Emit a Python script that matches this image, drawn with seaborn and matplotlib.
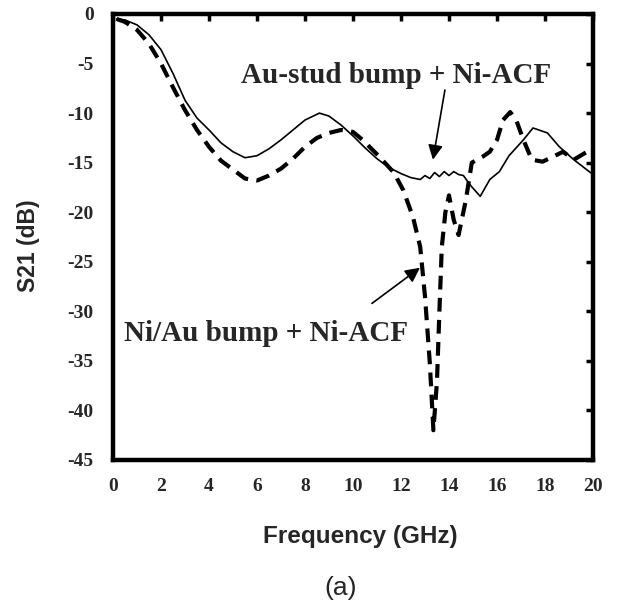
import matplotlib
matplotlib.use("Agg")
import matplotlib.pyplot as plt
import seaborn as sns
import pandas as pd

# Au-stud bump + Ni-ACF (solid)
freq_au = [0.15, 0.5, 1.0, 1.5, 2.0, 2.5, 3.0, 3.5, 4.0, 4.5, 5.0, 5.5, 6.0, 6.5, 7.0, 7.5,
           8.0, 8.6, 9.0, 9.5, 10.0, 10.5, 11.0, 11.5, 12.0, 12.4, 12.8, 13.0, 13.2, 13.4,
           13.6, 13.8, 14.0, 14.2, 14.4, 14.6, 14.9, 15.3, 15.7, 16.1, 16.5, 17.1, 17.5,
           18.1, 18.6, 19.2, 20.0]
s21_au = [-0.5, -0.6, -1.1, -2.1, -3.6, -6.0, -8.7, -10.5, -11.7, -13.0, -13.9, -14.5, -14.3,
          -13.6, -12.7, -11.7, -10.7, -10.0, -10.3, -11.2, -12.3, -13.5, -14.6, -15.5, -16.1,
          -16.5, -16.7, -16.3, -16.6, -16.0, -16.4, -15.9, -16.3, -15.9, -16.2, -16.3, -17.3,
          -18.4, -16.7, -15.9, -14.3, -12.7, -11.5, -12.0, -13.4, -14.7, -16.2]

# Ni/Au bump + Ni-ACF (dashed)
freq_ni = [0.15, 0.5, 1.0, 1.5, 2.0, 2.5, 3.0, 3.5, 4.0, 4.5, 5.0, 5.5, 6.0, 6.5, 7.0, 7.5,
           8.0, 8.5, 9.0, 9.5, 10.0, 10.4, 11.1, 11.7, 12.1, 12.5, 12.8, 13.0, 13.2, 13.35,
           13.5, 13.6, 13.7, 13.85, 14.0, 14.2, 14.4, 14.7, 14.95, 15.4, 15.7, 16.0, 16.25,
           16.55, 16.8, 17.1, 17.45, 17.9, 18.5, 18.75, 19.2, 19.75, 20.0]
s21_ni = [-0.5, -0.8, -1.6, -3.0, -5.0, -7.4, -9.7, -11.7, -13.4, -14.8, -15.7, -16.6, -16.8,
          -16.3, -15.6, -14.6, -13.4, -12.5, -12.0, -11.7, -11.9, -12.7, -14.4, -16.0, -17.8,
          -20.5, -23.5, -28.5, -35.2, -42.0, -37.0, -30.0, -23.5, -20.0, -18.3, -20.8, -22.3,
          -18.8, -15.0, -14.4, -13.9, -12.7, -10.7, -9.9, -10.7, -12.7, -14.7, -14.9, -14.2,
          -13.9, -14.7, -13.9, -13.4]

x_ticks = list(range(0, 21, 2))
y_ticks = list(range(0, -46, -5))

df = pd.concat([
    pd.DataFrame({"f": freq_au, "s": s21_au, "series": "Au-stud bump + Ni-ACF"}),
    pd.DataFrame({"f": freq_ni, "s": s21_ni, "series": "Ni/Au bump + Ni-ACF"}),
])

sns.set_theme(style="white")
plt.rcParams["font.family"] = ["Liberation Serif", "DejaVu Serif"]

fig = plt.figure(figsize=(6.21, 6.04), dpi=100)
ax = fig.add_axes([113/621, 1-460/604, 480/621, 446/604])

sub_au = df[df.series == "Au-stud bump + Ni-ACF"]
sub_ni = df[df.series == "Ni/Au bump + Ni-ACF"]
sns.lineplot(data=sub_au, x="f", y="s", ax=ax, color="black", linewidth=1.2, sort=False,
             estimator=None)
sns.lineplot(data=sub_ni, x="f", y="s", ax=ax, color="black", linewidth=3.0, sort=False,
             estimator=None, dashes=False, linestyle=(0, (3.3, 2)))

ax.set_xlim(0, 20)
ax.set_ylim(-45, 0)
ax.set_xticks(x_ticks)
ax.set_yticks(y_ticks)
ax.set_xticklabels([str(t) for t in x_ticks], fontweight="bold", fontsize=14)
ax.set_yticklabels([str(t) for t in y_ticks], fontweight="bold", fontsize=14)
ax.tick_params(direction="in", length=5, width=2.5, top=True, right=True,
               labelsize=14, color="black")
ax.tick_params(axis="y", pad=14)
ax.tick_params(axis="x", pad=13)
for sp in ax.spines.values():
    sp.set_linewidth(3.2)
    sp.set_color("black")
    sp.set_visible(True)

ax.set_xlabel("Frequency (GHz)", family=["Liberation Sans"], fontweight="bold", fontsize=17.5,
              va="top")
ax.xaxis.set_label_coords(0.515, -0.146)
ax.set_ylabel("S21 (dB)", family=["Liberation Sans"], fontweight="bold", fontsize=16.5)
ax.yaxis.set_label_coords(-0.152, 0.48)

ax.text(11.79, -6.16, "Au-stud bump + Ni-ACF", ha="center", va="center",
        fontsize=21, fontweight="bold")
ax.text(6.37, -32.2, "Ni/Au bump + Ni-ACF", ha="center", va="center",
        fontsize=21, fontweight="bold")
ax.annotate("", xy=(13.33, -14.7), xytext=(13.83, -7.67),
            arrowprops=dict(arrowstyle="-|>", color="black", lw=1.2, mutation_scale=22,
                            shrinkA=0, shrinkB=0))
ax.annotate("", xy=(12.79, -25.6), xytext=(10.79, -29.2),
            arrowprops=dict(arrowstyle="-|>", color="black", lw=1.2, mutation_scale=22,
                            shrinkA=0, shrinkB=0))

fig.text(341/621, 1-588/604, "(a)", family=["Liberation Sans"], fontsize=19,
         ha="center", va="center")

fig.savefig("out.png", dpi=100)
